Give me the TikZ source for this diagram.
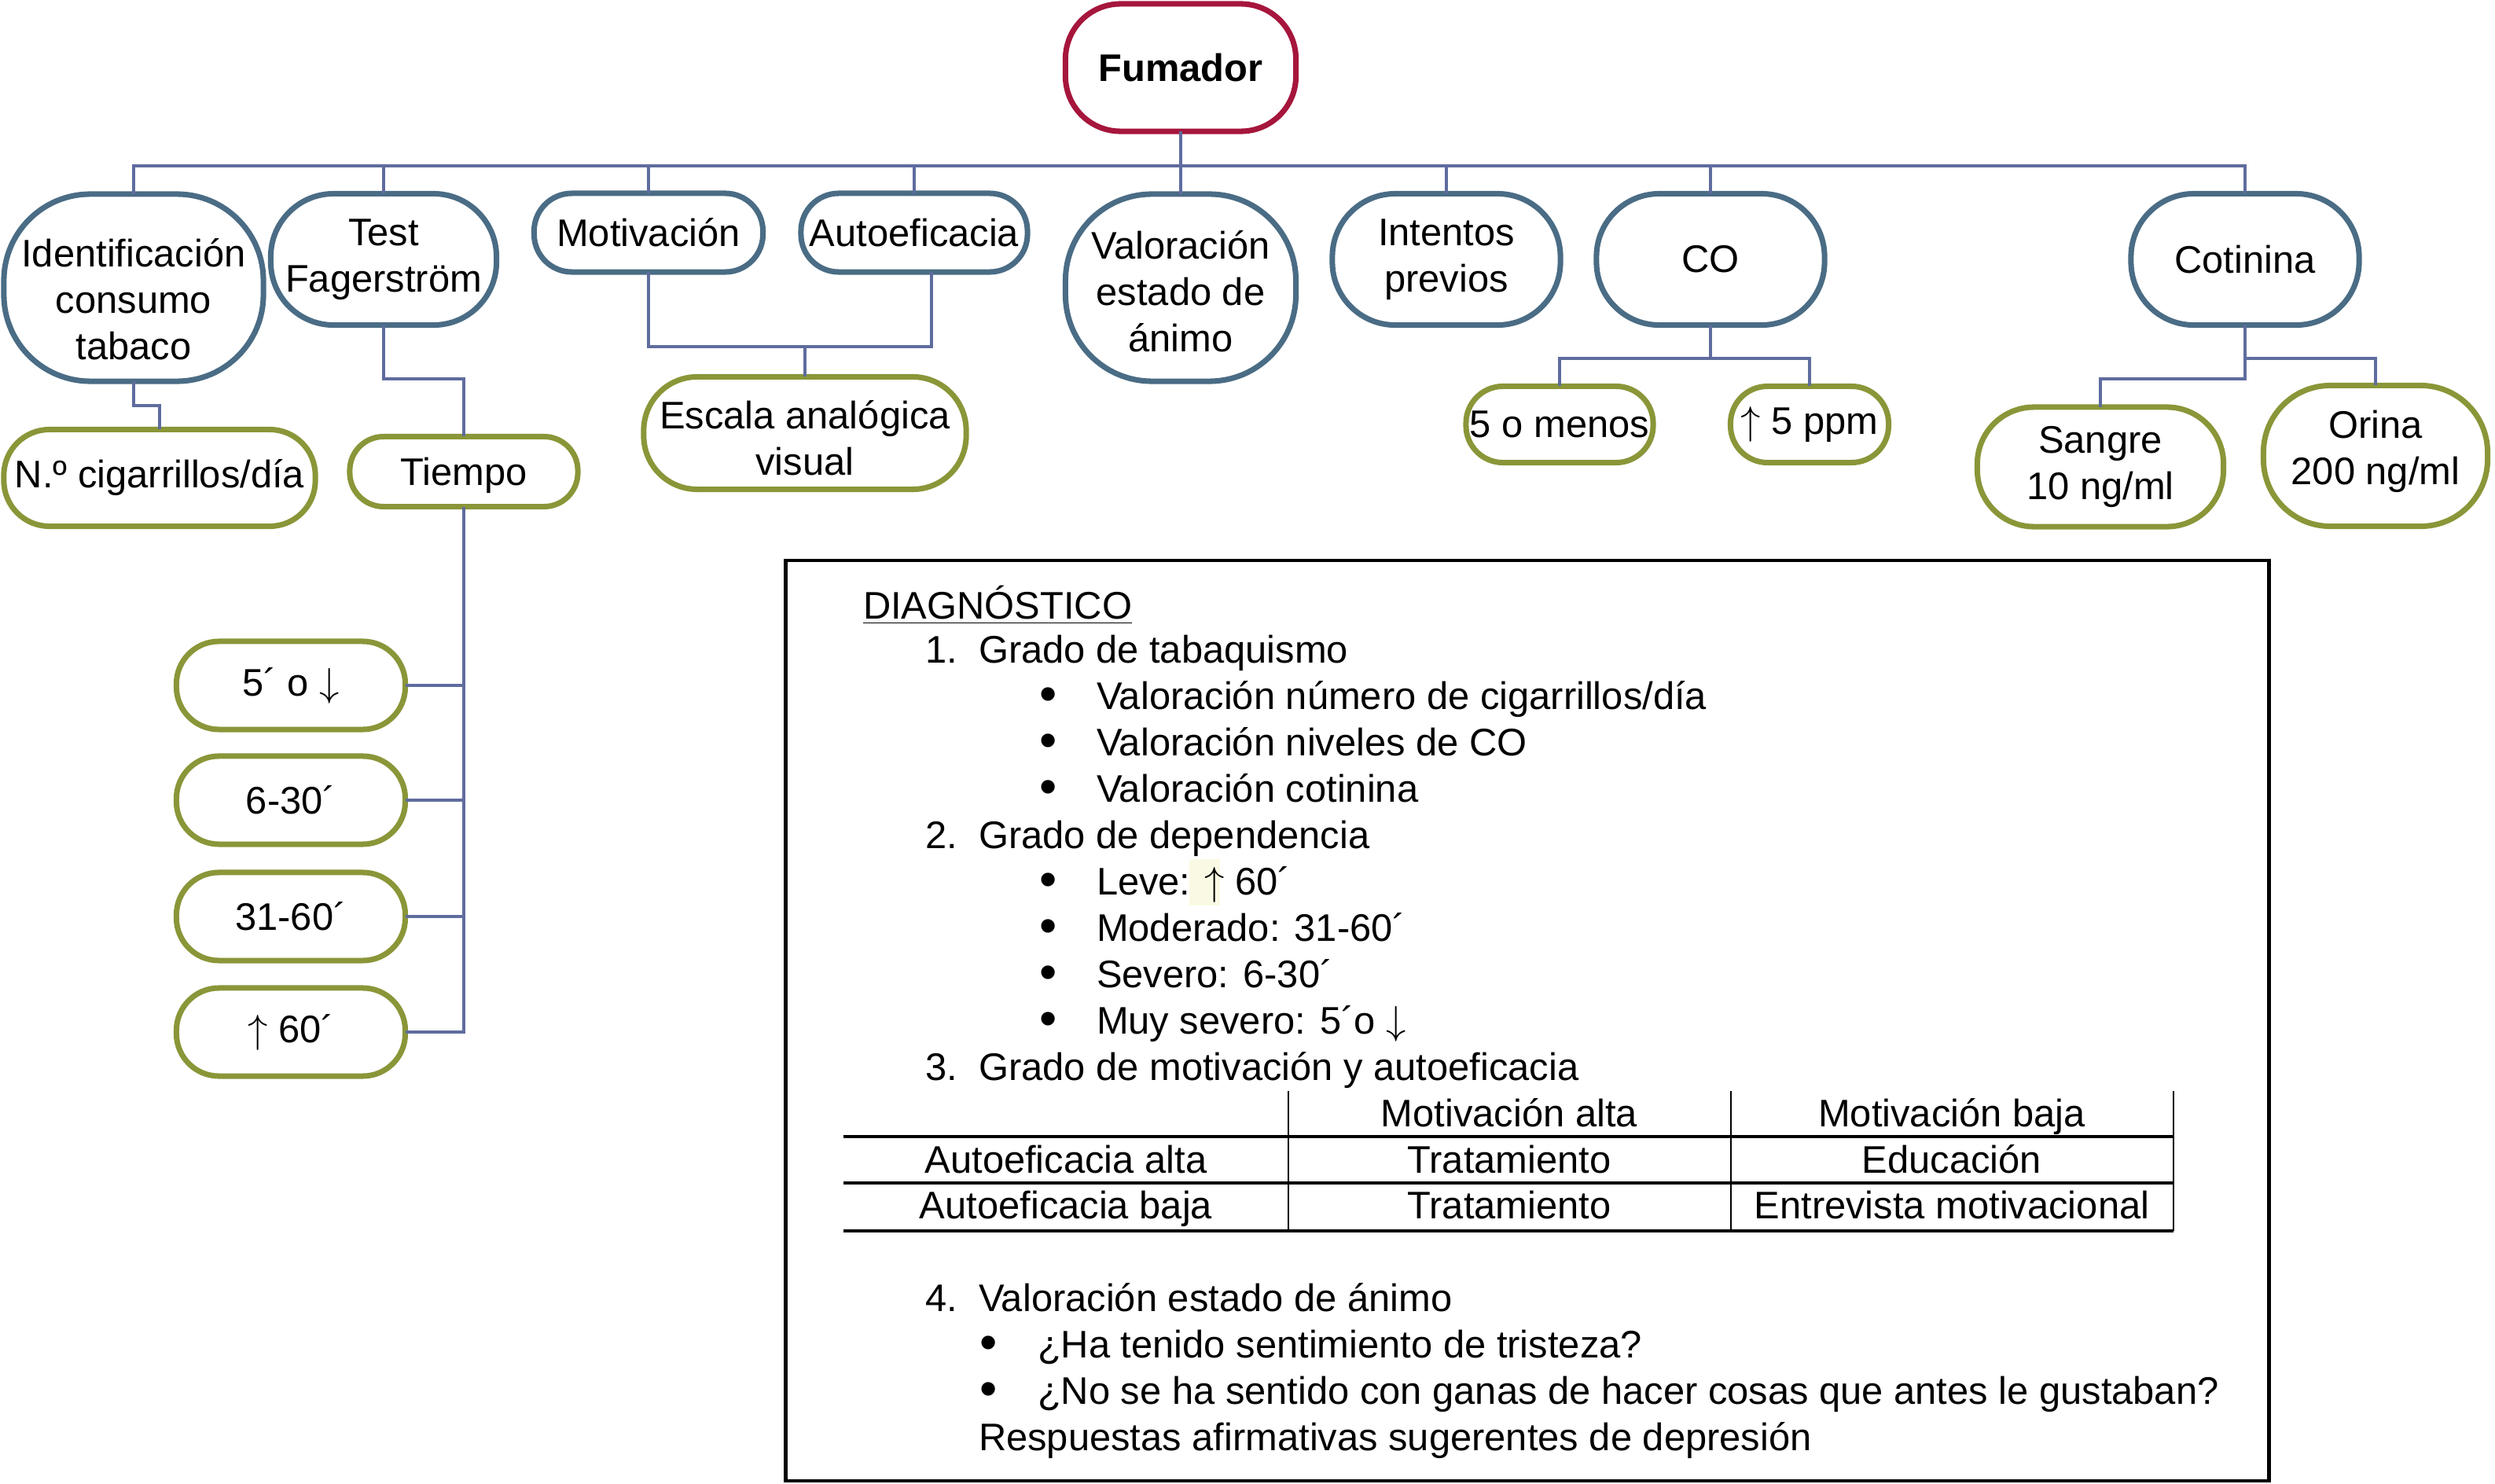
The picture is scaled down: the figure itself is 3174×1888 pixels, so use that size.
\documentclass[tikz,border=0pt]{standalone}
\usepackage{fontspec}
\setmainfont{Liberation Sans}
\definecolor{redC}{HTML}{A6163C}
\definecolor{blueC}{HTML}{4A6C85}
\definecolor{oliveC}{HTML}{8A9638}
\definecolor{connC}{HTML}{5F6C9E}
\definecolor{hlC}{HTML}{FAFAE4}
\newcommand{\uar}{$\uparrow$}
\newcommand{\dar}{$\downarrow$}
\newcommand{\bul}{\raisebox{-0.6pt}{\scalebox{1.3}{•}}}
\begin{document}
\begin{tikzpicture}[x=0.01cm,y=-0.01cm,
  every node/.style={font=\fontsize{13.9}{16.8}\selectfont, inner sep=0pt, outer sep=0pt},
  box/.style={draw, line width=2pt, fill=white, align=center, rounded corners=#1},
  redbox/.style={box=#1, draw=redC},
  bluebox/.style={box=#1, draw=blueC},
  olivebox/.style={box=#1, draw=oliveC},
  conn/.style={draw=connC, line width=1pt},
  txt/.style={anchor=base west},
  ctxt/.style={anchor=base},
]
\useasboundingbox (0,0) rectangle (3174,1888);

\coordinate (bus) at (0,211);
\coordinate (j1) at (170,516);
\coordinate (j2) at (488,482);
\coordinate (j3) at (1024,441);
\coordinate (j4) at (2176,456);
\coordinate (j5) at (2856,456);
\coordinate (j6) at (2856,482);

% ---------- level 0 ----------
\node[redbox=0.7cm, minimum width=2.93cm, minimum height=1.62cm, font=\fontsize{13.9}{16.8}\selectfont\bfseries] (fum) at (1502,86) {Fumador};

% ---------- level 1 ----------
\node[bluebox=1.1cm, minimum width=3.30cm, minimum height=2.38cm] (ident) at (170,366) {\rule{0pt}{18.5pt}Identificación\\consumo\\tabaco};
\node[bluebox=0.8cm, minimum width=2.87cm, minimum height=1.67cm] (test) at (488,330) {Test\\Fagerström};
\node[bluebox=0.48cm, minimum width=2.91cm, minimum height=1.00cm] (motiv) at (825,296) {Motivación};
\node[bluebox=0.48cm, minimum width=2.88cm, minimum height=1.00cm] (autoef) at (1163,296) {Autoeficacia};
\node[bluebox=1.1cm, minimum width=2.93cm, minimum height=2.38cm] (valor) at (1502,366) {\rule{0pt}{13pt}Valoración\\estado de\\ánimo};
\node[bluebox=0.8cm, minimum width=2.90cm, minimum height=1.67cm] (intent) at (1840,330) {Intentos\\previos};
\node[bluebox=0.8cm, minimum width=2.90cm, minimum height=1.67cm] (co) at (2176,330) {CO};
\node[bluebox=0.8cm, minimum width=2.90cm, minimum height=1.67cm] (cot) at (2856,330) {Cotinina};

% ---------- level 2 ----------
\node[olivebox=0.58cm, minimum width=3.96cm, minimum height=1.23cm] (ncig) at (203,608) {N.º cigarrillos/día};
\node[olivebox=0.43cm, minimum width=2.90cm, minimum height=0.89cm] (tiempo) at (590,600) {\rule{0pt}{13pt}Tiempo};
\node[olivebox=0.68cm, minimum width=4.10cm, minimum height=1.43cm] (escala) at (1024,551) {\rule{0pt}{14pt}Escala analógica\\visual};
\node[olivebox=0.47cm, minimum width=2.38cm, minimum height=0.97cm] (menos5) at (1984,540) {5 o menos};
\node[olivebox=0.47cm, minimum width=2.01cm, minimum height=0.97cm] (ppm5) at (2302,540) {\uar\ 5 ppm};
\node[olivebox=0.72cm, minimum width=3.13cm, minimum height=1.52cm] (sangre) at (2672,594) {Sangre\\10 ng/ml};
\node[olivebox=0.85cm, minimum width=2.85cm, minimum height=1.79cm] (orina) at (3022,580) {Orina\\200 ng/ml\rule[-6pt]{0pt}{6pt}};

% ---------- time boxes ----------
\node[olivebox=0.54cm, minimum width=2.91cm, minimum height=1.12cm] (t1) at (370,872) {5´ o \dar};
\node[olivebox=0.54cm, minimum width=2.91cm, minimum height=1.12cm] (t2) at (370,1018) {6-30´};
\node[olivebox=0.54cm, minimum width=2.91cm, minimum height=1.12cm] (t3) at (370,1166) {31-60´};
\node[olivebox=0.54cm, minimum width=2.91cm, minimum height=1.12cm] (t4) at (370,1313) {\uar\ 60´};

% ---------- connector paths ----------
\draw[conn] (fum.south) -- (valor.north);
\draw[conn] (ident.north) |- (cot.north |- bus) -- (cot.north);
\draw[conn] (test.north) -- (test.north |- bus);
\draw[conn] (motiv.north) -- (motiv.north |- bus);
\draw[conn] (autoef.north) -- (autoef.north |- bus);
\draw[conn] (intent.north) -- (intent.north |- bus);
\draw[conn] (co.north) -- (co.north |- bus);
\draw[conn] (ident.south) -- (j1) -| (ncig.north);
\draw[conn] (test.south) -- (j2) -| (tiempo.north);
\draw[conn] (motiv.south) |- (j3) -- (escala.north);
\draw[conn] ([xshift=0.22cm]autoef.south) |- (j3);
\draw[conn] (tiempo.south) |- (t4.east);
\draw[conn] (t1.east) -- (t1.east -| tiempo.south);
\draw[conn] (t2.east) -- (t2.east -| tiempo.south);
\draw[conn] (t3.east) -- (t3.east -| tiempo.south);
\draw[conn] (co.south) -- (j4);
\draw[conn] (menos5.north) |- (j4) -| (ppm5.north);
\draw[conn] (cot.south) -- (j6) -| (sangre.north);
\draw[conn] (j5) -| (orina.north);

% ---------- diagnosis box ----------
\node[draw=black, line width=1.2pt, minimum width=18.86cm, minimum height=11.71cm] (diag) at (1943,1298.5) {};

\node[txt] (dg) at (1098,787) {\underline{DIAGNÓSTICO}};
\node[txt] (n1) at (1177,843) {1.};
\node[txt] (l1) at (1245,843) {Grado de tabaquismo};
\node[txt] (b1) at (1322,902) {\bul};
\node[txt] (l1a) at (1395,902) {Valoración número de cigarrillos/día};
\node[txt] (b2) at (1322,961) {\bul};
\node[txt] (l1b) at (1395,961) {Valoración niveles de CO};
\node[txt] (b3) at (1322,1020) {\bul};
\node[txt] (l1c) at (1395,1020) {Valoración cotinina};
\node[txt] (n2) at (1177,1079) {2.};
\node[txt] (l2) at (1245,1079) {Grado de dependencia};
\fill[hlC] (1513,1093) rectangle (1552,1152);
\node[txt] (b4) at (1322,1138) {\bul};
\node[txt] (l2a) at (1395,1138) {Leve: \uar\ 60´};
\node[txt] (b5) at (1322,1197) {\bul};
\node[txt] (l2b) at (1395,1197) {Moderado: 31-60´};
\node[txt] (b6) at (1322,1256) {\bul};
\node[txt] (l2c) at (1395,1256) {Severo: 6-30´};
\node[txt] (b7) at (1322,1315) {\bul};
\node[txt] (l2d) at (1395,1315) {Muy severo: 5´o \dar};
\node[txt] (n3) at (1177,1374) {3.};
\node[txt] (l3) at (1245,1374) {Grado de motivación y autoeficacia};

% table
\draw[black, line width=0.9pt] (1073,1446) -- (2765,1446);
\draw[black, line width=0.9pt] (1073,1505) -- (2765,1505);
\draw[black, line width=0.9pt] (1073,1566) -- (2765,1566);
\draw[black, line width=0.5pt] (1639,1388) -- (1639,1566);
\draw[black, line width=0.5pt] (2202,1388) -- (2202,1566);
\draw[black, line width=0.5pt] (2765,1388) -- (2765,1566);
\node[ctxt] (h1) at (1920,1433) {Motivación alta};
\node[ctxt] (h2) at (2483,1433) {Motivación baja};
\node[ctxt] (r1) at (1356,1492) {Autoeficacia alta};
\node[ctxt] (r1a) at (1920,1492) {Tratamiento};
\node[ctxt] (r1b) at (2483,1492) {Educación};
\node[ctxt] (r2) at (1356,1550) {Autoeficacia baja};
\node[ctxt] (r2a) at (1920,1550) {Tratamiento};
\node[ctxt] (r2b) at (2483,1550) {Entrevista motivacional};

\node[txt] (n4) at (1177,1668) {4.};
\node[txt] (l4) at (1245,1668) {Valoración estado de ánimo};
\node[txt] (b8) at (1246,1727) {\bul};
\node[txt] (l4a) at (1320,1727) {¿Ha tenido sentimiento de tristeza?};
\node[txt] (b9) at (1246,1786) {\bul};
\node[txt] (l4b) at (1320,1786) {¿No se ha sentido con ganas de hacer cosas que antes le gustaban?};
\node[txt] (l4c) at (1245,1845) {Respuestas afirmativas sugerentes de depresión};
\end{tikzpicture}
\end{document}
